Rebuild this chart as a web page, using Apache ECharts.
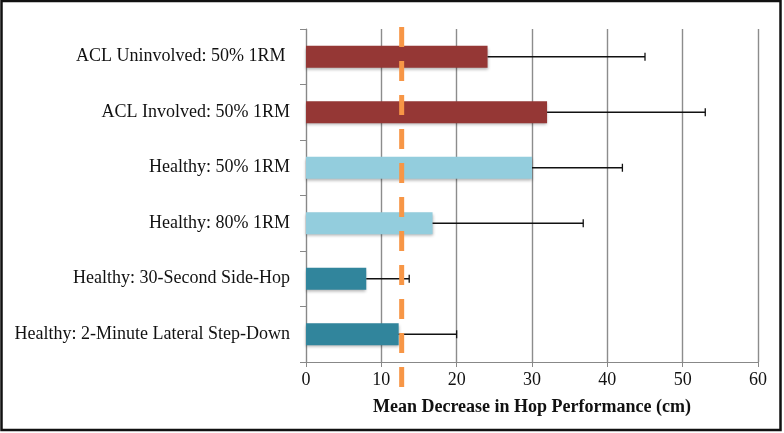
<!DOCTYPE html>
<html lang="en">
<head>
	<meta charset="UTF-8">
	<title>Hop Performance</title>
	<style>
		html, body { margin: 0; padding: 0; background: #fff; }
		#main { width: 784px; height: 433px; }
	</style>
</head>
<body>
	<div id="main"></div>
	<script src="https://cdn.jsdelivr.net/npm/echarts@6/dist/echarts.min.js"></script>
	<script>
		// categories, bottom to top (category y axis draws from the bottom)
		var categories = [
			'Healthy: 2-Minute Lateral Step-Down',
			'Healthy: 30-Second Side-Hop',
			'Healthy: 80% 1RM',
			'Healthy: 50% 1RM',
			'ACL Involved: 50% 1RM',
			'ACL Uninvolved: 50% 1RM '
		];
		var means = [12.3, 8.0, 16.8, 30.0, 32.0, 24.1];
		var upperErr = [20.0, 13.7, 36.8, 42.0, 53.0, 45.0];
		var barColors = ['#31859c', '#31859c', '#93cddd', '#93cddd', '#953735', '#953735'];
		var refLine = 12.7;
		var xTicks = { min: 0, max: 60, step: 10 };

		var serif = '"Liberation Serif", "Times New Roman", serif';

		var barData = [];
		var errData = [];
		for (var i = 0; i < categories.length; i++) {
			barData.push({ value: means[i], itemStyle: { color: barColors[i] } });
			errData.push([i, means[i], upperErr[i]]);
		}

		var myChart = echarts.init(document.getElementById('main'));
		var option = {
			animation: false,
			backgroundColor: '#fff',
			grid: { left: 306, right: 26, top: 29, bottom: 71 },
			graphic: [{
				type: 'rect',
				shape: { x: 1.5, y: 1, width: 779, height: 429 },
				style: { fill: 'none', stroke: '#111', lineWidth: 2.5 },
				z: 100
			}],
			xAxis: {
				type: 'value',
				min: xTicks.min,
				max: xTicks.max,
				interval: xTicks.step,
				name: 'Mean Decrease in Hop Performance (cm)',
				nameLocation: 'middle',
				nameGap: 36,
				nameTextStyle: { fontFamily: serif, fontWeight: 'bold', fontSize: 18, color: '#111' },
				axisLine: { show: true, lineStyle: { color: '#888', width: 1 } },
				axisTick: { show: true, length: 5, lineStyle: { color: '#888' } },
				axisLabel: { fontFamily: serif, fontSize: 18, color: '#111', margin: 9 },
				splitLine: { show: true, lineStyle: { color: '#8c8c8c', width: 1.4 } }
			},
			yAxis: {
				type: 'category',
				data: categories,
				axisLine: { show: true, lineStyle: { color: '#888', width: 1 } },
				axisTick: { show: true, length: 6, lineStyle: { color: '#888' } },
				axisLabel: { fontFamily: serif, fontSize: 18, color: '#111', margin: 16 },
				splitLine: { show: false }
			},
			series: [
				{
					type: 'bar',
					data: barData,
					barWidth: '40%',
					itemStyle: {
						shadowColor: 'rgba(0,0,0,0.3)',
						shadowBlur: 3,
						shadowOffsetY: 2
					},
					z: 2
				},
				{
					// error bars: line from mean to upper value with a cap
					type: 'custom',
					data: errData,
					renderItem: function (params, api) {
						var idx = api.value(0);
						var p0 = api.coord([api.value(1), idx]);
						var p1 = api.coord([api.value(2), idx]);
						var style = { stroke: '#111', lineWidth: 1.3 };
						return {
							type: 'group',
							children: [
								{ type: 'line', shape: { x1: p0[0], y1: p0[1], x2: p1[0], y2: p1[1] }, style: style },
								{ type: 'line', shape: { x1: p1[0], y1: p1[1] - 4, x2: p1[0], y2: p1[1] + 4 }, style: style }
							]
						};
					},
					z: 3
				},
				{
					// dashed reference line, runs a bit past the plot area
					type: 'custom',
					data: [[refLine]],
					renderItem: function (params, api) {
						var x = api.coord([api.value(0), 0])[0];
						var cs = params.coordSys;
						return {
							type: 'line',
							shape: { x1: x, y1: cs.y - 2, x2: x, y2: cs.y + cs.height + 30 },
							style: { stroke: '#f79646', lineWidth: 5, lineDash: [20, 14] }
						};
					},
					z: 4
				}
			]
		};
		myChart.setOption(option);
	</script>
</body>
</html>
